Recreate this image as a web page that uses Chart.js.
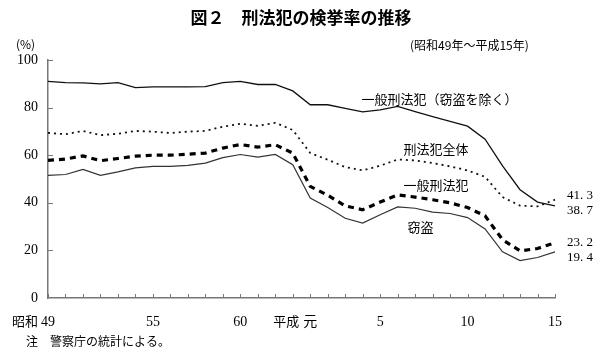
<!DOCTYPE html>
<html><head><meta charset="utf-8">
<script src="https://cdn.jsdelivr.net/npm/chart.js@4/dist/chart.umd.min.js"></script>
<style>html,body{margin:0;padding:0;background:#fff}#wrap{width:600px;height:360px}</style>
</head><body><div id="wrap"><canvas id="c" width="600" height="360"></canvas></div>
<script>
// Categories: 昭和49〜63, 平成元〜15
const categories = ['49','50','51','52','53','54','55','56','57','58','59','60','61','62','63',
  '元','2','3','4','5','6','7','8','9','10','11','12','13','14','15'];
const shownTicks = ['49','55','60','元','5','10','15'];
const eraMarks = [{index:0, text:'昭和'}, {index:15, text:'平成'}];
const yTicks = [0,20,40,60,80,100];

const excludingTheft = [91.0,90.5,90.4,90.0,90.5,88.4,88.7,88.7,88.7,88.8,90.5,91.0,89.7,89.7,87.0,
  81.2,81.2,79.7,78.2,79.0,80.5,78.3,76.2,74.2,72.2,66.7,55.5,45.5,40.3,38.7];
const allPenal = [69.4,68.8,70.2,68.4,69.0,70.2,69.9,69.3,69.9,70.2,72.0,73.2,72.3,73.6,70.6,
  60.9,58.1,55.0,53.6,55.6,58.2,57.8,56.7,55.3,53.6,50.9,42.4,38.8,38.5,41.3];
const generalPenal = [57.8,58.4,59.7,57.7,58.6,59.6,60.0,60.0,60.4,60.9,63.0,64.5,63.4,64.4,60.9,
  46.9,43.2,38.7,37.1,40.3,43.3,42.4,41.3,40.0,38.0,34.5,24.5,19.8,20.8,23.2];
const theft = [51.5,51.9,54.0,51.5,53.0,54.7,55.3,55.3,55.7,56.7,59.0,60.3,59.2,60.3,56.0,
  42.0,38.0,33.5,31.5,35.0,38.3,37.7,36.1,35.5,33.8,29.0,19.4,15.7,17.0,19.4];

const seriesNames = ['一般刑法犯（窃盗を除く）','刑法犯全体','一般刑法犯','窃盗'];
const seriesLabelAt = [{x:22.4,y:83.6},{x:22.2,y:62.6},{x:22.2,y:47.6},{x:21.3,y:29.6}];
const endLabelShift = [5,-4,0,6];

const title = '図２　刑法犯の検挙率の推移';
const unitText = '(%)';
const periodText = '(昭和49年～平成15年)';
const noteText = '注　警察庁の統計による。';

const SERIF = "'Liberation Serif','DejaVu Serif','Noto Sans CJK JP',serif";
const JP = "'Noto Sans CJK JP','Liberation Serif',serif";

const deco = {
  id:'deco',
  afterDraw(chart){
    const ctx = chart.ctx, x = chart.scales.x, y = chart.scales.y, ca = chart.chartArea;
    ctx.save();
    // inward ticks
    ctx.strokeStyle = '#777'; ctx.lineWidth = 1;
    categories.forEach((c,i)=>{
      const px = Math.round(x.getPixelForValue(i))+0.5;
      ctx.beginPath(); ctx.moveTo(px, ca.bottom); ctx.lineTo(px, ca.bottom-4); ctx.stroke();
    });
    yTicks.forEach(v=>{
      if(v===0) return;
      const py = Math.round(y.getPixelForValue(v))+0.5;
      ctx.beginPath(); ctx.moveTo(ca.left, py); ctx.lineTo(ca.left+5, py); ctx.stroke();
    });
    ctx.fillStyle = '#000';
    // title
    ctx.font = "bold 17px " + JP; ctx.textAlign='center'; ctx.textBaseline='middle';
    ctx.fillText(title, 301, 18);
    ctx.font = "12px " + JP; ctx.textAlign='left';
    ctx.fillText(unitText, 16, 44);
    ctx.fillText(periodText, 410, 45);
    ctx.fillText(noteText, 26, 341);
    // era marks
    ctx.font = "13px " + JP; ctx.textAlign='right';
    eraMarks.forEach(e=>{
      const px = x.getPixelForValue(e.index);
      ctx.fillText(e.text, px - (e.index===0?10:11), 321);
    });
    // series names
    ctx.font = "13px " + JP; ctx.textAlign='center';
    seriesNames.forEach((n,i)=>{
      ctx.fillText(n, x.getPixelForValue(seriesLabelAt[i].x), y.getPixelForValue(seriesLabelAt[i].y));
    });
    // end values
    ctx.font = "13px " + SERIF; ctx.textAlign='left';
    chart.data.datasets.forEach((ds,i)=>{
      const last = ds.data.length-1;
      const v = ds.data[last];
      ctx.fillText(v.toFixed(1).replace('.', '. '), x.getPixelForValue(last)+12, y.getPixelForValue(v)+endLabelShift[i]);
    });
    ctx.restore();
  }
};

new Chart(document.getElementById('c'), {
  type:'line',
  data:{
    labels: categories,
    datasets:[
      {label:seriesNames[0], data:excludingTheft, borderColor:'#111', borderWidth:1.3, pointRadius:0, tension:0, fill:false},
      {label:seriesNames[1], data:allPenal, borderColor:'#111', borderWidth:1.8, borderDash:[2,4], pointRadius:0, tension:0, fill:false},
      {label:seriesNames[2], data:generalPenal, borderColor:'#000', borderWidth:3.2, borderDash:[6,5], pointRadius:0, tension:0, fill:false},
      {label:seriesNames[3], data:theft, borderColor:'#333', borderWidth:1.2, pointRadius:0, tension:0, fill:false}
    ]
  },
  options:{
    responsive:false, animation:false, devicePixelRatio:1,
    layout:{padding:{top:60, right:45, left:0, bottom:0}},
    plugins:{legend:{display:false}, tooltip:{enabled:false}, title:{display:false}},
    scales:{
      x:{
        offset:false,
        grid:{display:false, drawTicks:false},
        border:{display:true, color:'#777', width:1.5},
        ticks:{autoSkip:false, maxRotation:0, minRotation:0, padding:16, color:'#000',
          font:{family:SERIF, size:14},
          callback:(v,i)=> shownTicks.includes(categories[i]) ? categories[i] : ''},
        afterFit:(s)=>{ s.height = 62; }
      },
      y:{
        min:0, max:100,
        grid:{display:false, drawTicks:false},
        border:{display:true, color:'#777', width:1.5},
        ticks:{stepSize:20, padding:10, color:'#000', font:{family:SERIF, size:14}},
        afterFit:(s)=>{ s.width = 48; }
      }
    }
  },
  plugins:[deco]
});
</script>
</body></html>
